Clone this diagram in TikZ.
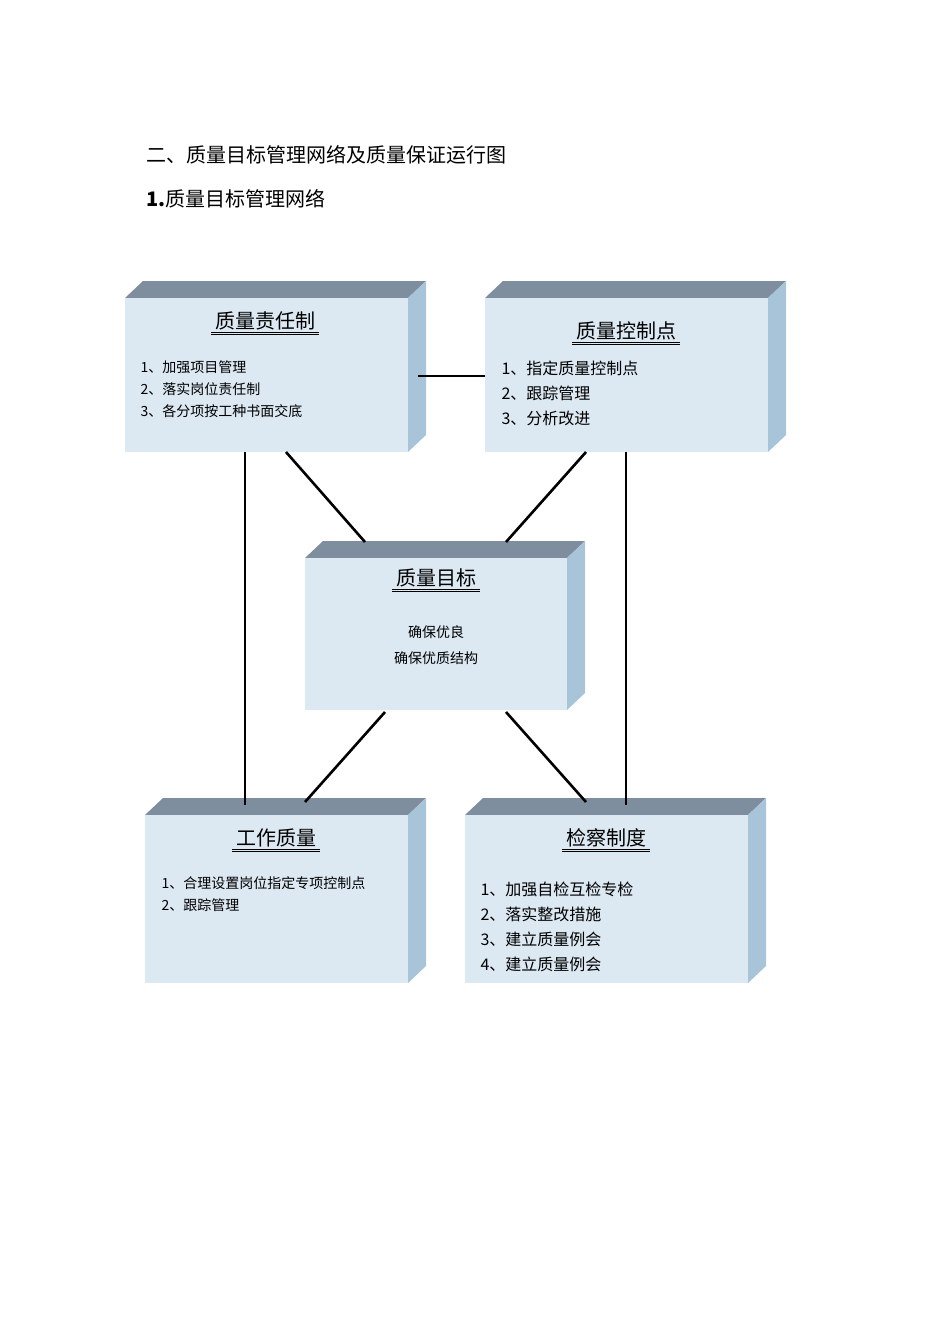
\documentclass[tikz,border=0pt]{standalone}
\usepackage{fontspec}
\newfontfamily\cjk{Noto Sans CJK SC}
\begin{document}
\begin{tikzpicture}[x=1pt,y=-1pt,
  ttl/.style={font=\cjk\fontsize{20}{24}\selectfont,anchor=base},
  body/.style={font=\cjk\fontsize{15}{24}\selectfont,anchor=north west,align=left},
  conn/.style={line width=2.6pt,black}]
\definecolor{frontc}{HTML}{DCE8F2}
\definecolor{topc}{HTML}{7F8E9E}
\definecolor{sidec}{HTML}{A8C4D9}
\useasboundingbox (0,0) rectangle (950,1344);
\newcommand{\mybx}[5]{% name, x1,y1,x2,y2
  \fill[topc] (#2,#3)--(#2+18,#3-17)--(#4+18,#3-17)--(#4,#3)--cycle;
  \fill[sidec] (#4,#3)--(#4+18,#3-17)--(#4+18,#5-17)--(#4,#5)--cycle;
  \fill[frontc] (#2,#3) rectangle (#4,#5);
  \coordinate (#1) at ({(#2+#4)/2},{(#3+#5)/2});}
\node[font=\cjk\fontsize{20}{24}\selectfont,anchor=base west] (h1) at (143,162) {二、质量目标管理网络及质量保证运行图};
\node[font=\cjk\fontsize{20}{24}\selectfont,anchor=base west] (h2) at (143,206) {\textbf{1.}质量目标管理网络};
\mybx{b1}{125}{298}{408}{452}
\mybx{b2}{485}{298}{768}{452}
\mybx{b3}{305}{558}{567}{710}
\mybx{b4}{145}{815}{408}{983}
\mybx{b5}{465}{815}{748}{983}
\newcommand{\mytitle}[3]{\node[ttl] (#1) at (#2) {#3};
  \draw[line width=0.7pt] ([yshift=-4pt]#1.base west) -- ([yshift=-4pt]#1.base east)
        ([yshift=-6.5pt]#1.base west) -- ([yshift=-6.5pt]#1.base east);}
\mytitle{t1}{265,328}{质量责任制}
\mytitle{t2}{626,338}{质量控制点}
\mytitle{t3}{436,585}{质量目标}
\mytitle{t4}{276,845}{工作质量}
\mytitle{t5}{606,845}{检察制度}
\node[body,font=\cjk\fontsize{14}{22}\selectfont] (l1) at (137,357) {1、加强项目管理\\2、落实岗位责任制\\3、各分项按工种书面交底};
\node[body,font=\cjk\fontsize{16}{25}\selectfont] (l2) at (498,357) {1、指定质量控制点\\2、跟踪管理\\3、分析改进};
\node[body,align=center,anchor=north,font=\cjk\fontsize{14}{26}\selectfont] (l3) at (436,622) {确保优良\\确保优质结构};
\node[body,font=\cjk\fontsize{14}{22}\selectfont,text width=245pt] (l4) at (158,873) {1、合理设置岗位指定专项控制点\\2、跟踪管理};
\node[body,font=\cjk\fontsize{16}{25}\selectfont] (l5) at (477,878) {1、加强自检互检专检\\2、落实整改措施\\3、建立质量例会\\4、建立质量例会};
\draw[conn] (418,376) -- (485,376);
\draw[conn] (245,452) -- (245,805);
\draw[conn] (626,452) -- (626,805);
\draw[conn] (286,452) -- (365,542);
\draw[conn] (586,452) -- (506,542);
\draw[conn] (385,712) -- (305,802);
\draw[conn] (506,712) -- (586,802);
\end{tikzpicture}
\end{document}
